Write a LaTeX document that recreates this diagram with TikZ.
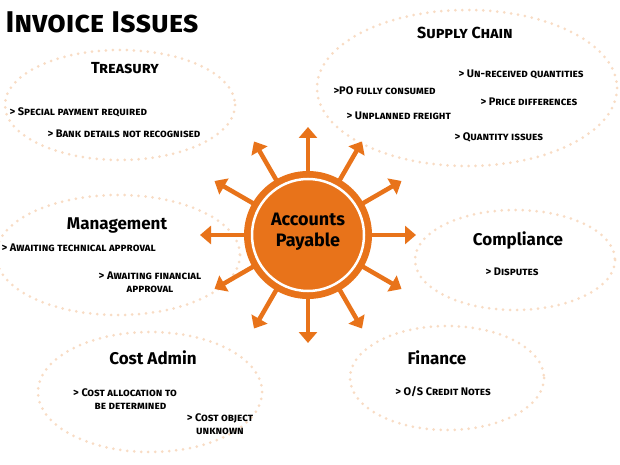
\documentclass[tikz,border=0pt]{standalone}
\usepackage{fontspec}
\setmainfont{Fira Sans}
\usetikzlibrary{arrows.meta}
\definecolor{apor}{HTML}{E8731A}
\definecolor{dotc}{HTML}{F8DCC4}
\tikzset{
 grp/.style={draw=dotc,line width=3pt,dash pattern=on 0pt off 7pt,line cap=round},
 hd/.style={font=\fontsize{16}{18}\selectfont\bfseries,text=black},
 it/.style={font=\fontsize{11}{13}\selectfont\scshape\bfseries,text=black,align=center},
 arr/.style={draw=apor,line width=4.5pt,-{Triangle[length=11pt,width=18pt]}}
}
\begin{document}
\begin{tikzpicture}[x=1pt,y=-1pt]
\useasboundingbox (0,0) rectangle (620,465);
\node[anchor=west,font=\fontsize{30}{32}\selectfont\bfseries\scshape] (title) at (2,22) {Invoice Issues};
% groups
\draw[grp] (120,105) ellipse [x radius=115,y radius=55];
\draw[grp] (467,88) ellipse [x radius=150,y radius=78];
\draw[grp] (118,255) ellipse [x radius=122,y radius=60];
\draw[grp] (515,260) ellipse [x radius=100,y radius=50];
\draw[grp] (150,392) ellipse [x radius=112,y radius=60];
\draw[grp] (447,378) ellipse [x radius=97,y radius=52];
% center
\foreach \a in {0,30,...,330}{
 \draw[arr] (308,235) ++(\a:60) coordinate (s\a) -- ++(\a:48) coordinate (e\a);}
\node[circle,fill=apor,minimum size=128pt] (ap) at (308,235) {};
\node[circle,draw=white,line width=2.5pt,minimum size=112pt] (ring) at (308,235) {};
\node[font=\fontsize{18}{21}\selectfont\bfseries,text=black,align=center] (apt) at (308,232) {Accounts\\Payable};
% Treasury
\node[hd,font=\fontsize{16}{18}\selectfont\bfseries\scshape] (tr) at (125,68) {Treasury};
\node[it,anchor=west] (tr1) at (6,112) {> Special payment required};
\node[it,anchor=west] (tr2) at (44,134) {> Bank details not recognised};
% Supply chain
\node[hd,font=\fontsize{16}{18}\selectfont\bfseries\scshape] (sc) at (465,33) {Supply Chain};
\node[it,anchor=west] (sc1) at (455,74) {> Un-received quantities};
\node[it,anchor=west] (sc2) at (330,91) {>PO fully consumed};
\node[it,anchor=west] (sc3) at (477,102) {> Price differences};
\node[it,anchor=west] (sc4) at (343,116) {> Unplanned freight};
\node[it,anchor=west] (sc5) at (451,137) {> Quantity issues};
% Management
\node[hd,font=\fontsize{17}{19}\selectfont\bfseries] (mg) at (117,225) {Management};
\node[it,anchor=west] (mg1) at (-2,248) {> Awaiting technical approval};
\node[it,align=center] (mg2) at (150,282) {> Awaiting financial\\approval};
% Compliance
\node[hd,font=\fontsize{17}{19}\selectfont\bfseries] (cp) at (518,240) {Compliance};
\node[it] (cp1) at (512,272) {> Disputes};
% Cost admin
\node[hd,font=\fontsize{17}{19}\selectfont\bfseries] (ca) at (153,358) {Cost Admin};
\node[it] (ca1) at (125,399) {> Cost allocation to\\ \hspace*{1em}be determined};
\node[it] (ca2) at (220,424) {> Cost object\\unknown};
% Finance
\node[hd,font=\fontsize{17}{19}\selectfont\bfseries] (fi) at (437,358) {Finance};
\node[it] (fi1) at (443,392) {> O/S Credit Notes};
\end{tikzpicture}
\end{document}
